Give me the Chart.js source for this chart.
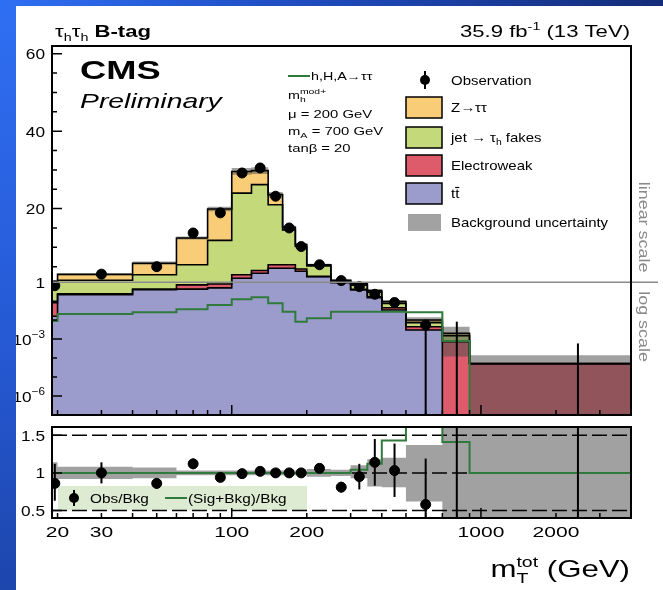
<!DOCTYPE html>
<html>
<head>
<meta charset="utf-8">
<title>tau_h tau_h B-tag mT tot</title>
<script src="https://cdn.jsdelivr.net/npm/chart.js@4.4.1/dist/chart.umd.min.js"></script>
<style>
  html, body { margin: 0; padding: 0; width: 663px; height: 590px; overflow: hidden; background: #1d4ab8; }
  #stripLeft { position: absolute; left: 0; top: 0; width: 16px; height: 590px; background: linear-gradient(#2f6ff3, #2558d2 60%, #1d46ac); }
  #stripTop { position: absolute; left: 0; top: 0; width: 663px; height: 6px; background: linear-gradient(90deg, #2f6ff3, #1f4cc0 45%, #142c78); }
  #panel { position: absolute; left: 16px; top: 6px; width: 647px; height: 584px; background: #fff; }
  canvas { position: absolute; left: 0; top: 0; }
</style>
</head>
<body>
<div id="stripLeft"></div><div id="stripTop"></div><div id="panel"></div>
<canvas id="mainChart" width="663" height="590"></canvas>
<canvas id="ratioChart" width="663" height="590"></canvas>
<script>
// histogram binning in mT_tot (GeV); points sit at the linear bin centres
const binEdges = [19, 20, 40, 60, 80, 100, 120, 140, 160, 180, 200, 250, 300, 350, 400, 500, 700, 900, 4000];
const binCenters = [19.5, 30, 50, 70, 90, 110, 130, 150, 170, 190, 225, 275, 325, 375, 450, 600, 800, 2450];

// background components, bottom to top of the stack
const ttbar = [0.016, 0.22, 0.40, 0.43, 0.50, 2.0, 3.3, 4.6, 4.6, 3.8, 2.4, 0.95, 0.39, 0.15, 0.034, 0.003, 0, 0];
const electroweak = [0.067, 0.02, 0.03, 0.29, 0.30, 0.9, 0.7, 0.9, 0.9, 0.6, 0.1, 0.05, 0.03, 0.02, 0.011, 0.0015, 0.00072, 0.00005];
const jetFakes = [0.87, 1.26, 2.47, 4.78, 11.0, 21.1, 22.2, 15.5, 9.0, 5.8, 2.7, 0.4, 0.28, 0.13, 0.03, 0.003, 0.00078, 0.000001];
const zTauTau = [0.02, 1.5, 3.0, 6.9, 8.1, 5.6, 3.6, 2.6, 0.7, 0.5, 0.3, 0.1, 0.11, 0.06, 0.019, 0.0027, 0.0005, 0.000001];

// signal h,H,A -> tau tau (mhmod+, mA = 700 GeV, tan beta = 20)
const signal = [0.009, 0.021, 0.026, 0.037, 0.063, 0.126, 0.16, 0.077, 0.028, 0.0083, 0.0124, 0.028, 0.028, 0.028, 0.028, 0.026, 0.0008, 0];

// observation
const observed = [0.65, 3.07, 5.0, 13.7, 18.9, 29.2, 30.5, 23.2, 15.0, 10.2, 5.5, 1.4, 0.58, 0.23, 0.085, 0.0055, 0, 0];
const obsErrUp = [0.2, 0.4, 0.35, 0.9, 1.0, 1.2, 1.2, 1.0, 0.9, 0.7, 0.35, 0.12, 0.1, 0.07, 0.025, 0.0033, 0.0083, 0.00059];
const obsErrDown = [0.17, 0.4, 0.35, 0.9, 1.0, 1.2, 1.2, 1.0, 0.9, 0.7, 0.35, 0.12, 0.1, 0.07, 0.025, 0.0055, 0, 0];

// relative background uncertainty
const bkgUncUp = [0.14, 0.08, 0.07, 0.03, 0.03, 0.03, 0.03, 0.03, 0.03, 0.03, 0.05, 0.04, 0.10, 0.18, 0.20, 0.37, 1.25, 1.7];
const bkgUncDown = [0.14, 0.08, 0.07, 0.03, 0.03, 0.03, 0.03, 0.03, 0.03, 0.03, 0.05, 0.04, 0.07, 0.18, 0.19, 0.38, 0.94, 1.0];

// ratio panel
const ratioObs = [0.86, 1.0, 0.86, 1.12, 0.94, 0.99, 1.02, 1.0, 1.0, 1.0, 1.06, 0.81, 0.95, 1.14, 1.03, 0.58, 0, 0];
const ratioErrUp = [0.26, 0.14, 0.07, 0.07, 0.05, 0.04, 0.04, 0.04, 0.04, 0.04, 0.06, 0.07, 0.17, 0.31, 0.36, 0.61, 9, 9];
const ratioErrDown = [0.23, 0.14, 0.07, 0.07, 0.05, 0.04, 0.04, 0.04, 0.04, 0.04, 0.06, 0.07, 0.17, 0.31, 0.35, 0.58, 0, 0];
const ratioSigBkg = [1, 1, 1, 1, 1, 1, 1, 1, 1, 1, 1, 1, 1.04, 1.12, 1.43, 3.5, 1.41, 1];
const ratioRefLines = [0.5, 1, 1.5];

// axis ticks
const xTickValues = [20, 30, 40, 50, 60, 70, 80, 90, 100, 200, 300, 400, 500, 600, 700, 800, 900, 1000, 2000, 3000];
const xTickMajor = [100, 1000];
const xTickLabels = [20, 30, 100, 200, 1000, 2000];
const yMainTicks = [5, 10, 15, 20, 25, 30, 35, 40, 45, 50, 55, 60, 1e-1, 1e-2, 1e-3, 1e-4, 1e-5, 1e-6];
const yMainMajor = [20, 40, 60, 1e-3, 1e-6];
const yMainLabelValues = [60, 40, 20, 1, 1e-3, 1e-6];
const yMainLabels = ['60', '40', '20', '1', '10^−3', '10^−6'];
const yRatioLabelValues = [1.5, 1, 0.5];
const yRatioLabels = ['1.5', '1', '0.5'];

const stackColors = ['#9c9ccc', '#de5b6b', '#c4d97a', '#f9cd78'];
const SIG_GREEN = '#2f7a3c';
const BAND = 'rgba(77,77,77,0.53)';
const FONT = '"Liberation Sans", Arial, Helvetica, sans-serif';

// upper part linear (1 .. 62), lower part log (1e-7 .. 1)
const Y_LIN_MAX = 62;
const Y_LOG_MIN = 1e-7;
const LOG_FRACTION = 0.36;

class HybridScale extends Chart.LinearScale {
  determineDataLimits() { this.min = Y_LOG_MIN; this.max = Y_LIN_MAX; }
  buildTicks() { return []; }
  splitPixel() { return this.bottom - (this.bottom - this.top) * LOG_FRACTION; }
  getPixelForValue(v) {
    const split = this.splitPixel();
    if (v >= 1) return split - (v - 1) / (Y_LIN_MAX - 1) * (split - this.top);
    if (!(v > 0)) return this.bottom + 20;
    const decades = -Math.log10(v);
    return split + decades / -Math.log10(Y_LOG_MIN) * (this.bottom - split);
  }
  getValueForPixel(p) {
    const split = this.splitPixel();
    if (p <= split) return 1 + (split - p) / (split - this.top) * (Y_LIN_MAX - 1);
    return Math.pow(10, -(p - split) / (this.bottom - split) * -Math.log10(Y_LOG_MIN));
  }
}
HybridScale.id = 'hybrid';
HybridScale.defaults = {};
Chart.register(HybridScale);

function stepPoints(vals) {
  return binEdges.map((e, i) => ({ x: e, y: vals[Math.min(i, vals.length - 1)] }));
}
function centerPoints(vals) {
  return binCenters.map((c, i) => ({ x: c, y: vals[i] }));
}

const fontOf = p => (p.it ? 'italic ' : '') + (p.b ? 'bold ' : '') + p.s + 'px ' + FONT;

// text with sub/superscripts; the reference is stretched horizontally, hence sx
function drawRich(ctx, x, y, parts, align, sx, color) {
  ctx.save();
  ctx.translate(x, y);
  ctx.scale(sx || 1.3, 1);
  ctx.fillStyle = color || '#000';
  ctx.textBaseline = 'alphabetic';
  ctx.textAlign = 'left';
  let total = 0;
  const widths = parts.map(p => {
    ctx.font = fontOf(p);
    const w = ctx.measureText(p.t).width;
    if (!p.keep) total += w;
    return w;
  });
  let cx = align === 'right' ? -total : align === 'center' ? -total / 2 : 0;
  parts.forEach((p, i) => {
    ctx.font = fontOf(p);
    ctx.fillText(p.t, cx, p.dy || 0);
    if (!p.keep) cx += widths[i];
  });
  ctx.restore();
}

function labelParts(str, size) {
  const [base, sup] = str.split('^');
  const parts = [{ t: base, s: size }];
  if (sup) parts.push({ t: sup, s: size * 0.68, dy: -size * 0.45 });
  return parts;
}

const errorBars = {
  id: 'errorBars',
  afterDatasetsDraw(chart) {
    const { ctx, chartArea: a, scales: { x, y } } = chart;
    ctx.save();
    ctx.beginPath();
    ctx.rect(a.left, a.top, a.right - a.left, a.bottom - a.top);
    ctx.clip();
    ctx.strokeStyle = '#000';
    ctx.lineWidth = 2;
    chart.data.datasets.forEach(ds => {
      if (!ds.errUp) return;
      ds.data.forEach((p, i) => {
        const px = x.getPixelForValue(p.x);
        ctx.beginPath();
        ctx.moveTo(px, y.getPixelForValue(p.y - ds.errDn[i]));
        ctx.lineTo(px, y.getPixelForValue(p.y + ds.errUp[i]));
        ctx.stroke();
      });
    });
    ctx.restore();
  }
};

function drawXTicks(ctx, x, yBase) {
  xTickValues.forEach(v => {
    const px = x.getPixelForValue(v);
    const len = xTickMajor.includes(v) ? 10 : 5;
    ctx.moveTo(px, yBase);
    ctx.lineTo(px, yBase - len);
  });
}

const mainDecor = {
  id: 'mainDecor',
  afterDraw(chart) {
    const { ctx, chartArea: a, scales: { x, y } } = chart;
    ctx.save();
    ctx.beginPath();
    ctx.rect(16, 6, 647, 584);
    ctx.clip();

    const ySplit = y.getPixelForValue(1);
    ctx.strokeStyle = '#8a8a8a';
    ctx.lineWidth = 1.5;
    ctx.beginPath();
    ctx.moveTo(a.left, ySplit);
    ctx.lineTo(658, ySplit);
    ctx.stroke();

    ctx.strokeStyle = '#000';
    ctx.lineWidth = 2;
    ctx.strokeRect(a.left, a.top, a.right - a.left, a.bottom - a.top);
    ctx.lineWidth = 1.5;
    ctx.beginPath();
    yMainTicks.forEach(v => {
      const py = y.getPixelForValue(v);
      const len = yMainMajor.includes(v) ? 10 : 5;
      ctx.moveTo(a.left, py);
      ctx.lineTo(a.left + len, py);
    });
    drawXTicks(ctx, x, a.bottom);
    ctx.stroke();

    yMainLabelValues.forEach((v, i) => {
      drawRich(ctx, 45, y.getPixelForValue(v) + 5.5, labelParts(yMainLabels[i], 15), 'right', 1.15);
    });

    // header
    drawRich(ctx, 55, 37, [
      { t: 'τ', s: 17 }, { t: 'h', s: 11, dy: 4 }, { t: 'τ', s: 17 }, { t: 'h', s: 11, dy: 4 },
      { t: ' B-tag', s: 17, b: true }
    ], 'left', 1.3);
    drawRich(ctx, 630, 37, [
      { t: '35.9 fb', s: 17 }, { t: '-1', s: 11, dy: -7 }, { t: ' (13 TeV)', s: 17 }
    ], 'right', 1.3);
    drawRich(ctx, 80, 79, [{ t: 'CMS', s: 25, b: true }], 'left', 1.45);
    drawRich(ctx, 80, 108, [{ t: 'Preliminary', s: 21, it: true }], 'left', 1.35);

    // signal legend block
    ctx.strokeStyle = SIG_GREEN;
    ctx.lineWidth = 2;
    ctx.beginPath();
    ctx.moveTo(288, 76);
    ctx.lineTo(310, 76);
    ctx.stroke();
    drawRich(ctx, 311, 80, [{ t: 'h,H,A→ττ', s: 11 }], 'left', 1.3);
    drawRich(ctx, 288, 99, [{ t: 'm', s: 11 }, { t: 'h', s: 8, dy: 3, keep: true }, { t: 'mod+', s: 8, dy: -5 }], 'left', 1.3);
    drawRich(ctx, 288, 118, [{ t: 'μ = 200 GeV', s: 11 }], 'left', 1.35);
    drawRich(ctx, 288, 135, [{ t: 'm', s: 11 }, { t: 'A', s: 8, dy: 3 }, { t: ' = 700 GeV', s: 11 }], 'left', 1.35);
    drawRich(ctx, 288, 152, [{ t: 'tanβ = 20', s: 11 }], 'left', 1.35);

    // process legend
    ctx.fillStyle = '#000';
    ctx.beginPath();
    ctx.arc(425, 80, 5, 0, Math.PI * 2);
    ctx.fill();
    ctx.strokeStyle = '#000';
    ctx.beginPath();
    ctx.moveTo(425, 71);
    ctx.lineTo(425, 89);
    ctx.stroke();
    drawRich(ctx, 451, 85, [{ t: 'Observation', s: 13 }], 'left', 1.15);
    const boxes = [
      [97, stackColors[3], [{ t: 'Z→ττ', s: 13 }]],
      [127, stackColors[2], [{ t: 'jet → τ', s: 13 }, { t: 'h', s: 9, dy: 3 }, { t: ' fakes', s: 13 }]],
      [155, stackColors[1], [{ t: 'Electroweak', s: 13 }]],
      [183, stackColors[0], [{ t: 'tt', s: 13 }]]
    ];
    boxes.forEach(([top, col, parts]) => {
      ctx.fillStyle = col;
      ctx.fillRect(406, top, 36, 21);
      ctx.strokeStyle = '#000';
      ctx.lineWidth = 1.5;
      ctx.strokeRect(406, top, 36, 21);
      drawRich(ctx, 451, top + 15, parts, 'left', 1.15);
    });
    // bar over the second t of tt
    ctx.font = '13px ' + FONT;
    const wt = ctx.measureText('t').width * 1.15;
    ctx.lineWidth = 1.2;
    ctx.beginPath();
    ctx.moveTo(451 + wt, 187.5);
    ctx.lineTo(451 + 2 * wt, 187.5);
    ctx.stroke();
    ctx.fillStyle = '#a2a2a2';
    ctx.fillRect(408, 214, 33, 17);
    drawRich(ctx, 451, 227, [{ t: 'Background uncertainty', s: 13 }], 'left', 1.15);

    // side labels
    [['linear scale', (a.top + ySplit) / 2 + 63], ['log scale', (ySplit + a.bottom) / 2 - 22]].forEach(([txt, cy]) => {
      ctx.save();
      ctx.translate(643, cy);
      ctx.rotate(Math.PI / 2);
      drawRich(ctx, 0, 4.5, [{ t: txt, s: 14 }], 'center', 1.28, '#8a8a8a');
      ctx.restore();
    });
    ctx.restore();
  }
};

let running = binEdges.slice(1).map(() => 0);
const stackDatasets = [ttbar, electroweak, jetFakes, zTauTau].map((comp, k) => {
  running = running.map((v, i) => v + comp[i]);
  return {
    data: stepPoints(running), stepped: true, fill: k === 0 ? 'start' : '-1',
    backgroundColor: stackColors[k], borderColor: '#000', borderWidth: 1.6,
    pointRadius: 0, order: 20 - k
  };
});
const bkgTotal = running;

new Chart(document.getElementById('mainChart'), {
  type: 'line',
  data: {
    datasets: [
      ...stackDatasets,
      { data: stepPoints(bkgTotal.map((v, i) => v * (1 - bkgUncDown[i]))), stepped: true, fill: false,
        borderWidth: 0, pointRadius: 0, order: 6 },
      { data: stepPoints(bkgTotal.map((v, i) => v * (1 + bkgUncUp[i]))), stepped: true, fill: '-1',
        backgroundColor: BAND, borderWidth: 0, pointRadius: 0, order: 5 },
      { data: stepPoints(signal), stepped: true, fill: false, borderColor: SIG_GREEN, borderWidth: 2,
        pointRadius: 0, order: 3 },
      { data: centerPoints(observed), showLine: false, order: 1,
        pointRadius: c => (c.raw && c.raw.y > 0 ? 5 : 0), pointBackgroundColor: '#000', pointBorderColor: '#000',
        errUp: obsErrUp, errDn: obsErrDown }
    ]
  },
  options: {
    responsive: false,
    animation: false,
    events: [],
    layout: { padding: { left: 52, top: 46, right: 32, bottom: 175 } },
    plugins: { legend: { display: false }, tooltip: { enabled: false }, filler: { drawTime: 'beforeDatasetsDraw' } },
    scales: {
      x: { type: 'logarithmic', min: 19, max: 4000, display: false },
      y: { type: 'hybrid', display: false }
    }
  },
  plugins: [errorBars, mainDecor]
});

const ratioDecor = {
  id: 'ratioDecor',
  beforeDatasetsDraw(chart) {
    const { ctx } = chart;
    ctx.save();
    ctx.fillStyle = '#dcebd2';
    ctx.fillRect(58, 486, 249, 24);
    ctx.restore();
  },
  afterDraw(chart) {
    const { ctx, chartArea: a, scales: { x, y } } = chart;
    ctx.save();
    ctx.beginPath();
    ctx.rect(16, 6, 647, 584);
    ctx.clip();
    ctx.strokeStyle = '#000';
    ctx.lineWidth = 2;
    ctx.strokeRect(a.left, a.top, a.right - a.left, a.bottom - a.top);
    ctx.lineWidth = 1.5;
    ctx.beginPath();
    yRatioLabelValues.forEach(v => {
      const py = y.getPixelForValue(v);
      ctx.moveTo(a.left, py);
      ctx.lineTo(a.left + 10, py);
    });
    drawXTicks(ctx, x, a.bottom);
    ctx.stroke();

    yRatioLabelValues.forEach((v, i) => {
      drawRich(ctx, 45, y.getPixelForValue(v) + 5.5, [{ t: yRatioLabels[i], s: 15 }], 'right', 1.15);
    });
    xTickLabels.forEach(v => {
      drawRich(ctx, x.getPixelForValue(v), 537, [{ t: String(v), s: 15 }], 'center', 1.4);
    });
    drawRich(ctx, 630, 577, [
      { t: 'm', s: 24 }, { t: 'T', s: 15, dy: 6, keep: true }, { t: 'tot', s: 15, dy: -10 }, { t: ' (GeV)', s: 24 }
    ], 'right', 1.3);

    // ratio legend contents
    ctx.fillStyle = '#000';
    ctx.beginPath();
    ctx.arc(74, 498, 5, 0, Math.PI * 2);
    ctx.fill();
    ctx.lineWidth = 2;
    ctx.beginPath();
    ctx.moveTo(74, 490);
    ctx.lineTo(74, 506);
    ctx.stroke();
    drawRich(ctx, 90, 503, [{ t: 'Obs/Bkg', s: 12 }], 'left', 1.28);
    ctx.strokeStyle = SIG_GREEN;
    ctx.beginPath();
    ctx.moveTo(165, 498);
    ctx.lineTo(187, 498);
    ctx.stroke();
    drawRich(ctx, 188, 503, [{ t: '(Sig+Bkg)/Bkg', s: 12 }], 'left', 1.28);
    ctx.restore();
  }
};

new Chart(document.getElementById('ratioChart'), {
  type: 'line',
  data: {
    datasets: [
      { data: stepPoints(bkgUncDown.map(d => 1 - d)), stepped: true, fill: false, borderWidth: 0, pointRadius: 0, order: 6 },
      { data: stepPoints(bkgUncUp.map(u => 1 + u)), stepped: true, fill: '-1', backgroundColor: BAND,
        borderWidth: 0, pointRadius: 0, order: 5 },
      ...ratioRefLines.map(v => ({
        data: [{ x: 19, y: v }, { x: 4000, y: v }], fill: false, borderColor: '#000', borderWidth: 1.5,
        borderDash: [15, 5], pointRadius: 0, order: 4
      })),
      { data: stepPoints(ratioSigBkg), stepped: true, fill: false, borderColor: SIG_GREEN, borderWidth: 2,
        pointRadius: 0, order: 3 },
      { data: centerPoints(ratioObs), showLine: false, order: 1,
        pointRadius: c => (c.raw && c.raw.y > 0 ? 5 : 0), pointBackgroundColor: '#000', pointBorderColor: '#000',
        errUp: ratioErrUp, errDn: ratioErrDown }
    ]
  },
  options: {
    responsive: false,
    animation: false,
    events: [],
    layout: { padding: { left: 52, top: 427, right: 32, bottom: 72 } },
    plugins: { legend: { display: false }, tooltip: { enabled: false } },
    scales: {
      x: { type: 'logarithmic', min: 19, max: 4000, display: false },
      y: { type: 'linear', min: 0.4, max: 1.61, display: false }
    }
  },
  plugins: [errorBars, ratioDecor]
});
</script>
</body>
</html>
